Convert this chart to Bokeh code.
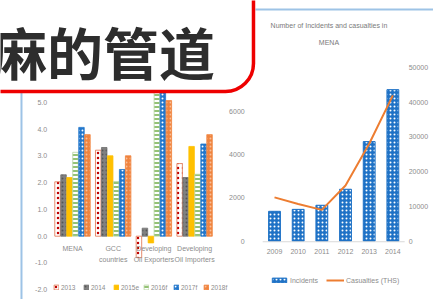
from bokeh.plotting import figure
from bokeh.models import (ColumnDataSource, Range1d, LinearAxis, FixedTicker, BoxAnnotation,
                          Label, Legend, LegendItem, NumeralTickFormatter)
from bokeh.transform import dodge
from bokeh.core.properties import value
from bokeh.embed import file_html
from bokeh.resources import INLINE

# ---------------- data ----------------
banner_text = "麻的管道"

categories = ["MENA", "GCC countries", "Developing Oil Exporters", "Developing Oil Importers"]
category_labels = ["MENA", "GCC\ncountries", "Developing\nOil Exporters", "Developing\nOil Importers"]
series_names = ["2013", "2014", "2015e", "2016f", "2017f", "2018f"]
s2013 = [2.03, 3.21, -0.80, 2.71]
s2014 = [2.29, 3.31, 0.30, 2.19]
s2015e = [2.19, 3.00, -0.25, 3.35]
s2016f = [3.13, 2.04, 5.60, 2.31]
s2017f = [4.06, 2.49, 5.60, 3.44]
s2018f = [3.79, 3.00, 5.06, 3.79]
left_ticks = [-2, -1, 0, 1, 2, 3, 4, 5]

years = ["2009", "2010", "2011", "2012", "2013", "2014"]
incidents = [1380, 1470, 1660, 2400, 4600, 7000]
casualties = [12600, 10700, 9000, 16000, 28000, 41900]
inc_ticks = [0, 2000, 4000, 6000]
cas_ticks = [0, 10000, 20000, 30000, 40000, 50000]
right_title = ["Number of Incidents and casualties in", "MENA"]

# ---------------- styles ----------------
FONT = "Liberation Sans"
GREY = "#8c8c8c"
styles = [
    dict(fill_color="white", line_color="#e0704a", hatch_pattern="dot", hatch_color="#c00000", hatch_scale=5, hatch_weight=1.5),
    dict(fill_color="#808080", line_color="#707070", hatch_pattern="dot", hatch_color="#555555", hatch_scale=4, hatch_weight=1),
    dict(fill_color="#ffc000", line_color="#ffc000"),
    dict(fill_color="white", line_color="#b5d3a0", hatch_pattern="horizontal_line", hatch_color="#70ad47", hatch_scale=4, hatch_weight=1.5),
    dict(fill_color="#2277cc", line_color="#2277cc", hatch_pattern="dot", hatch_color="white", hatch_scale=4, hatch_weight=1),
    dict(fill_color="#f0843f", line_color="#f0843f", hatch_pattern="dot", hatch_color="#f8bf9a", hatch_scale=4, hatch_weight=1),
]

# one canvas, frame = whole canvas; two coordinate systems
p = figure(width=433, height=299, x_range=Range1d(-1.769, 8.870), y_range=Range1d(-2.362, 8.795),
           x_axis_type=None, y_axis_type=None, output_backend="svg", toolbar_location=None,
           min_border=0)
p.outline_line_color = None
p.extra_x_ranges = {"r": Range1d(-11.576, 6.717)}
p.extra_y_ranges = {"inc": Range1d(-2693, 11118), "cas": Range1d(-16753, 69167)}

def style_axis(ax, standoff):
    ax.axis_line_color = None
    ax.major_tick_line_color = None
    ax.minor_tick_line_color = None
    ax.major_tick_out = 0
    ax.major_tick_in = 0
    ax.minor_tick_out = 0
    ax.major_label_standoff = standoff
    ax.major_label_text_font = FONT
    ax.major_label_text_font_size = "7px"
    ax.major_label_text_color = GREY

# ---------------- left chart ----------------
idx = list(range(len(categories)))
src = ColumnDataSource(dict(idx=idx, lab=category_labels,
                            s2013=s2013, s2014=s2014, s2015e=s2015e,
                            s2016f=s2016f, s2017f=s2017f, s2018f=s2018f,
                            ly=[-0.33] * len(categories)))

bw = 0.147
fields = ["s2013", "s2014", "s2015e", "s2016f", "s2017f", "s2018f"]
itemsL = []
for i, (f, name, st) in enumerate(zip(fields, series_names, styles)):
    off = (i - 2.5) * bw
    r = p.vbar(x=dodge("idx", off), top=f, bottom=0, width=bw * 0.92, source=src, line_width=0.8, **st)
    itemsL.append(LegendItem(label=name, renderers=[r]))

p.text(x="idx", y="ly", text="lab", source=src, text_align="center", text_baseline="top",
       text_font=value(FONT), text_font_size="7px", text_color=GREY, text_line_height=1.6)

yL = LinearAxis(fixed_location=-0.5, ticker=FixedTicker(ticks=left_ticks),
                formatter=NumeralTickFormatter(format="0.0"))
style_axis(yL, 5)
p.add_layout(yL, "left")

legL = Legend(items=itemsL, orientation="horizontal", location=(53, 8),
              background_fill_alpha=0, border_line_color=None,
              label_text_font=FONT, label_text_font_size="6.5px", label_text_color=GREY,
              glyph_width=6, glyph_height=6, label_height=8, label_standoff=2,
              spacing=2, padding=2, margin=0)
p.add_layout(legL)

# ---------------- right chart ----------------
jdx = list(range(len(years)))
rsrc = ColumnDataSource(dict(j=jdx, inc=incidents, cas=casualties))

rb = p.vbar(x="j", top="inc", width=0.5, source=rsrc, x_range_name="r", y_range_name="inc",
            fill_color="#1f72c6", line_color="#1f72c6",
            hatch_pattern="dot", hatch_color="white", hatch_scale=4, hatch_weight=1)
rl = p.line(x="j", y="cas", source=rsrc, x_range_name="r", y_range_name="cas",
            line_color="#ed7d31", line_width=2)

yInc = LinearAxis(y_range_name="inc", x_range_name="r", fixed_location=-0.5,
                  ticker=FixedTicker(ticks=inc_ticks))
style_axis(yInc, 18)
p.add_layout(yInc, "left")

yCas = LinearAxis(y_range_name="cas", x_range_name="r", fixed_location=len(years) - 0.5,
                  ticker=FixedTicker(ticks=cas_ticks))
style_axis(yCas, 4)
p.add_layout(yCas, "right")

xYears = LinearAxis(x_range_name="r", y_range_name="inc", fixed_location=0,
                    ticker=FixedTicker(ticks=jdx),
                    major_label_overrides={j: y for j, y in zip(jdx, years)})
style_axis(xYears, 8)
p.add_layout(xYears, "below")

p.add_layout(BoxAnnotation(x_range_name="r", y_range_name="inc", left=-0.5, right=len(years) - 0.5,
                           top=0, bottom=-46, fill_color="#d9d9d9", fill_alpha=1, line_color=None))

legR = Legend(items=[LegendItem(label="Incidents", renderers=[rb]),
                     LegendItem(label="Casualties (THS)", renderers=[rl])],
              orientation="horizontal", location=(270, 15),
              background_fill_alpha=0, border_line_color=None,
              label_text_font=FONT, label_text_font_size="7px", label_text_color=GREY,
              glyph_width=18, glyph_height=6, label_height=8, label_standoff=2,
              spacing=8, padding=2, margin=0)
p.add_layout(legR)

p.add_layout(Label(x_range_name="r", y_range_name="inc", x=2.3, y=9963, text=right_title[0],
                   text_align="center", text_baseline="middle",
                   text_font=FONT, text_font_size="7px", text_color="#7a7a7a"))
p.add_layout(Label(x_range_name="r", y_range_name="inc", x=2.3, y=9178, text=right_title[1],
                   text_align="center", text_baseline="middle",
                   text_font=FONT, text_font_size="7px", text_color="#7a7a7a"))

# ---------------- decorations: panel borders and banner ----------------
p.add_layout(BoxAnnotation(left=-1.278, right=-1.229, top=5.399, bottom=None,
                           fill_color="#9dc3e6", fill_alpha=1, line_color=None))
p.add_layout(BoxAnnotation(left=4.496, right=None, top=8.496, bottom=8.422,
                           fill_color="#9dc3e6", fill_alpha=1, line_color=None))
p.add_layout(BoxAnnotation(left=-3.0, right=4.447, top=10.0, bottom=5.399,
                           fill_color="white", fill_alpha=1, line_color="#ee0000", line_alpha=1,
                           line_width=3.5, border_radius=28))
p.add_layout(Label(x=-2.002, y=6.93, text=banner_text,
                   text_font="Noto Sans CJK SC", text_font_style="bold", text_font_size="56px",
                   text_color="#2d2d2d", text_baseline="middle", text_align="left"))

open("out.html", "w").write(file_html(p, INLINE))
